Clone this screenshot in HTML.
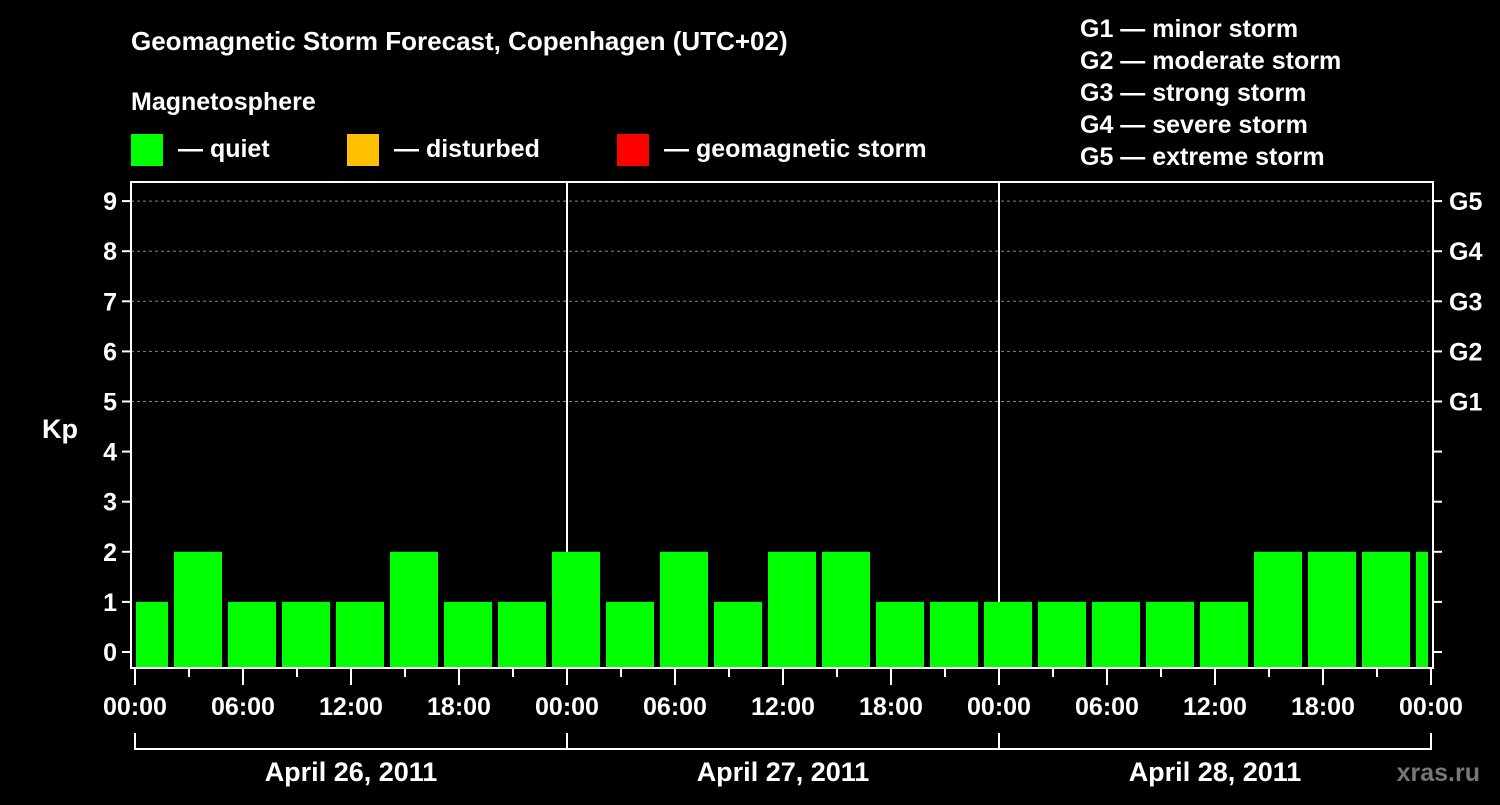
<!DOCTYPE html>
<html><head><meta charset="utf-8"><style>
body{margin:0;background:#000;width:1500px;height:800px;overflow:hidden}
svg text{font-family:"Liberation Sans",Arial,sans-serif;font-weight:bold;fill:#fff}
</style></head><body>
<svg id="chart" width="1500" height="800" xmlns="http://www.w3.org/2000/svg">
<rect width="1500" height="800" fill="#000"/>
<text x="131" y="50" font-size="26">Geomagnetic Storm Forecast, Copenhagen (UTC+02)</text>
<text x="131" y="110" font-size="25">Magnetosphere</text>
<g>
<rect x="131" y="134" width="32" height="32" fill="#00ff00"/>
<text x="178" y="157" font-size="25">— quiet</text>
<rect x="347" y="134" width="32" height="32" fill="#ffc000"/>
<text x="394" y="157" font-size="25">— disturbed</text>
<rect x="617" y="134" width="32" height="32" fill="#ff0000"/>
<text x="664" y="157" font-size="25">— geomagnetic storm</text>
</g>
<g font-size="25">
<text x="1080" y="37">G1 — minor storm</text>
<text x="1080" y="69">G2 — moderate storm</text>
<text x="1080" y="101">G3 — strong storm</text>
<text x="1080" y="133">G4 — severe storm</text>
<text x="1080" y="165">G5 — extreme storm</text>
</g>
<text x="42" y="438" font-size="27">Kp</text>
<g id="grid"></g><g id="bars"></g><g id="axes"></g>
</svg>
<script>
const kpValues=[1,2,1,1,1,2,1,1,2,1,2,1,2,2,1,1,1,1,1,1,1,2,2,2,2];
const yTicks=[0,1,2,3,4,5,6,7,8,9];
const gLabels=["G1","G2","G3","G4","G5"];
const xTickLabels=["00:00","06:00","12:00","18:00","00:00","06:00","12:00","18:00","00:00","06:00","12:00","18:00","00:00"];
const dayLabels=["April 26, 2011","April 27, 2011","April 28, 2011"];
const NS="http://www.w3.org/2000/svg";
const L=131,R=1433,T=182,B=668,X0=135,PXH=18;
const y=v=>652-v*50.1;
const x=h=>X0+h*PXH;
function mk(tag,attrs,parent,txt){const e=document.createElementNS(NS,tag);for(const k in attrs)e.setAttribute(k,attrs[k]);if(txt!==undefined)e.textContent=txt;document.getElementById(parent).appendChild(e);return e;}
// grid
for(let v=5;v<=9;v++){const g=mk('line',{x1:L,x2:R,y1:y(v),y2:y(v),stroke:'#888','stroke-dasharray':'3,3','stroke-width':1},'grid');

}
for(let d=1;d<3;d++){const g=mk('line',{x1:x(d*24),x2:x(d*24),y1:T,y2:B,stroke:'#fff','stroke-width':2},'grid');

}
// bars
kpValues.forEach((v,i)=>{const c=x(0.5+3*i);let x1=Math.max(c-24,L+5),x2=Math.min(c+24,R-5);
const color=v>=5?'#ff0000':(v>=4?'#ffc000':'#00ff00');
const b=mk('rect',{x:x1,y:y(v),width:x2-x1,height:B-1-y(v),fill:color},'bars');

});
// axes frame
const fr=mk('rect',{x:L,y:T,width:R-L,height:B-T,fill:'none',stroke:'#fff','stroke-width':2},'axes');


yTicks.forEach(v=>{mk('line',{x1:L-9,x2:L,y1:y(v),y2:y(v),stroke:'#fff','stroke-width':2},'axes');
mk('line',{x1:R,x2:R+9,y1:y(v),y2:y(v),stroke:'#fff','stroke-width':2},'axes');
const t=mk('text',{x:117,y:y(v)+9,'font-size':25,'text-anchor':'end'},'axes',v);

});
gLabels.forEach((g,i)=>{const t=mk('text',{x:1449,y:y(5+i)+9,'font-size':25},'axes',g);

});
for(let h=0;h<=72;h+=3){mk('line',{x1:x(h),x2:x(h),y1:B,y2:h%6==0?685:677,stroke:'#fff','stroke-width':2},'axes');}
xTickLabels.forEach((s,i)=>{const t=mk('text',{x:x(i*6),y:715,'font-size':25,'text-anchor':'middle'},'axes',s);

});
mk('line',{x1:x(0),x2:x(72),y1:749,y2:749,stroke:'#fff','stroke-width':2},'axes');
for(let d=0;d<=3;d++)mk('line',{x1:x(d*24),x2:x(d*24),y1:733,y2:750,stroke:'#fff','stroke-width':2},'axes');
dayLabels.forEach((s,i)=>{const t=mk('text',{x:x(i*24+12),y:781,'font-size':27,'text-anchor':'middle'},'axes',s);

});
const w=mk('text',{x:1480,y:781,'font-size':25,'text-anchor':'end',style:'fill:#777'},'axes','xras.ru');


</script>
</body></html>
